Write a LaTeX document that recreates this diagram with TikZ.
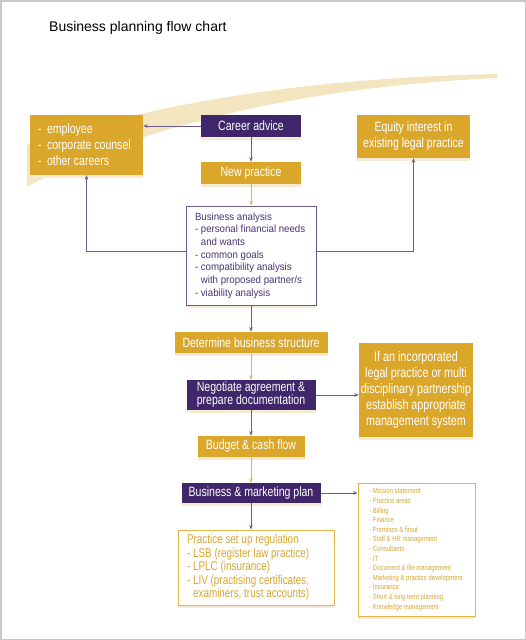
\documentclass[tikz,border=0pt]{standalone}
\usepackage{fontspec}
\setmainfont{Liberation Sans}
\newfontfamily\cond{Liberation Sans}[FakeStretch=0.78]
\newfontfamily\semicond{Liberation Sans}[FakeStretch=0.93]
\usetikzlibrary{arrows.meta,shadows}
\definecolor{gold}{HTML}{DBA72B}
\definecolor{purp}{HTML}{40266A}
\definecolor{lpurp}{HTML}{6B5A8C}
\definecolor{bapurp}{HTML}{4A3372}
\definecolor{swoosh}{HTML}{F3E5C0}
\definecolor{shade}{HTML}{F6EBD2}
\definecolor{goldtxt}{HTML}{D9A630}
\definecolor{goldline}{HTML}{E2B548}
\definecolor{frame}{HTML}{C8C8C8}
\begin{document}
\begin{tikzpicture}[x=1pt,y=-1pt,
  boxshadow/.style={drop shadow={shadow xshift=0pt,shadow yshift=-2.5pt,fill=shade,opacity=1}},
  goldbox/.style={boxshadow,fill=gold,text=white,inner sep=0pt,align=center,
    font=\cond\fontsize{13.5}{16}\selectfont},
  purpbox/.style={boxshadow,fill=purp,text=white,inner sep=0pt,align=center,
    font=\cond\fontsize{13.5}{13}\selectfont},
  whitebox/.style={boxshadow,fill=white,inner ysep=0pt,align=flush left},
  arr/.style={-{Stealth[length=4.5pt,width=3.5pt]},line width=0.8pt,draw=lpurp},
  garr/.style={arr,draw=goldline}]
\useasboundingbox (0,0) rectangle (526,640);
\draw[frame,line width=1.5pt] (0.75,0.75) rectangle (525.25,639.25);
% swoosh
\fill[swoosh] (497,74) .. controls (300,78) and (150,105) .. (27,145)
  -- (27,187) .. controls (120,135) and (280,88) .. (497,78) -- cycle;
% title
\node[anchor=west,inner sep=0pt,font=\fontsize{14}{16}\selectfont] (title) at (49,28) {Business planning flow chart};
% nodes
\node[goldbox,align=flush left,text width=97pt,inner xsep=8pt,minimum height=60pt] (careers) at (86.5,145)
  {-\hspace{5.5pt}employee\\-\hspace{5.5pt}corporate counsel\\-\hspace{5.5pt}other careers};
\node[purpbox,minimum width=100pt,minimum height=22pt] (career) at (251,126) {Career advice};
\node[goldbox,minimum width=100pt,minimum height=22pt] (newp) at (251,173) {New practice};
\node[goldbox,minimum width=113pt,minimum height=43pt] (equity) at (413.5,136.5)
  {Equity interest in\\existing legal practice};
\node[whitebox,draw=lpurp,line width=0.8pt,text=bapurp,text width=112pt,inner xsep=9pt,minimum height=99pt,
  font=\semicond\fontsize{10.4}{12.7}\selectfont] (ba) at (251,255.5)
  {Business analysis\\- personal financial needs\\\hphantom{- }and wants\\- common goals\\- compatibility analysis\\\hphantom{- }with proposed partner/s\\- viability analysis};
\node[goldbox,minimum width=153pt,minimum height=21pt] (det) at (251,342.5) {Determine business structure};
\node[purpbox,minimum width=129pt,minimum height=30pt] (neg) at (251,395)
  {Negotiate agreement \&\\prepare documentation};
\node[goldbox,minimum width=114pt,minimum height=94pt,font=\cond\fontsize{13.8}{16.2}\selectfont] (inc) at (416,390)
  {If an incorporated\\legal practice or multi\\disciplinary partnership\\establish appropriate\\management system};
\node[goldbox,minimum width=107pt,minimum height=21pt] (bud) at (251,446.5) {Budget \& cash flow};
\node[purpbox,minimum width=139pt,minimum height=20pt] (bmp) at (251,493) {Business \& marketing plan};
\node[whitebox,draw=goldline,line width=0.8pt,text=goldtxt,text width=138pt,inner xsep=9pt,minimum height=75pt,
  font=\cond\fontsize{12.7}{13.5}\selectfont] (psr) at (256,567.5)
  {Practice set up regulation\\- LSB (register law practice)\\- LPLC (insurance)\\- LIV (practising certificates,\\\hphantom{- }examiners, trust accounts)};
\node[whitebox,draw=goldline,line width=0.8pt,text=goldtxt,text width=95pt,inner xsep=11pt,minimum height=133pt,
  font=\cond\fontsize{7.6}{9.6}\selectfont] (list) at (416.5,549.5)
  {-\hspace{2pt}Mission statement\\-\hspace{2pt}Practice areas\\-\hspace{2pt}Billing\\-\hspace{2pt}Finance\\-\hspace{2pt}Premises \& fitout\\-\hspace{2pt}Staff \& HR management\\-\hspace{2pt}Consultants\\-\hspace{2pt}IT\\-\hspace{2pt}Document \& file management\\-\hspace{2pt}Marketing \& practice development\\-\hspace{2pt}Insurance\\-\hspace{2pt}Short \& long term planning\\-\hspace{2pt}Knowledge management};
% connectors
\draw[arr] (career.west) -- (career.west -| careers.east);
\draw[arr] (career.south) -- (newp.north);
\draw[garr] (newp.south) -- (ba.north);
\draw[arr] ([yshift=4.5pt]ba.west) -| (careers.south);
\draw[arr] ([yshift=4.5pt]ba.east) -| (equity.south);
\draw[arr] (ba.south) -- (det.north);
\draw[garr] (det.south) -- (neg.north);
\draw[arr] (neg.east) -- (neg.east -| inc.west);
\draw[arr] (neg.south) -- (bud.north);
\draw[garr] (bud.south) -- (bmp.north);
\draw[arr] (bmp.east) -- (bmp.east -| list.west);
\draw[arr] (bmp.south) -- (bmp.south |- psr.north);
\end{tikzpicture}
\end{document}
